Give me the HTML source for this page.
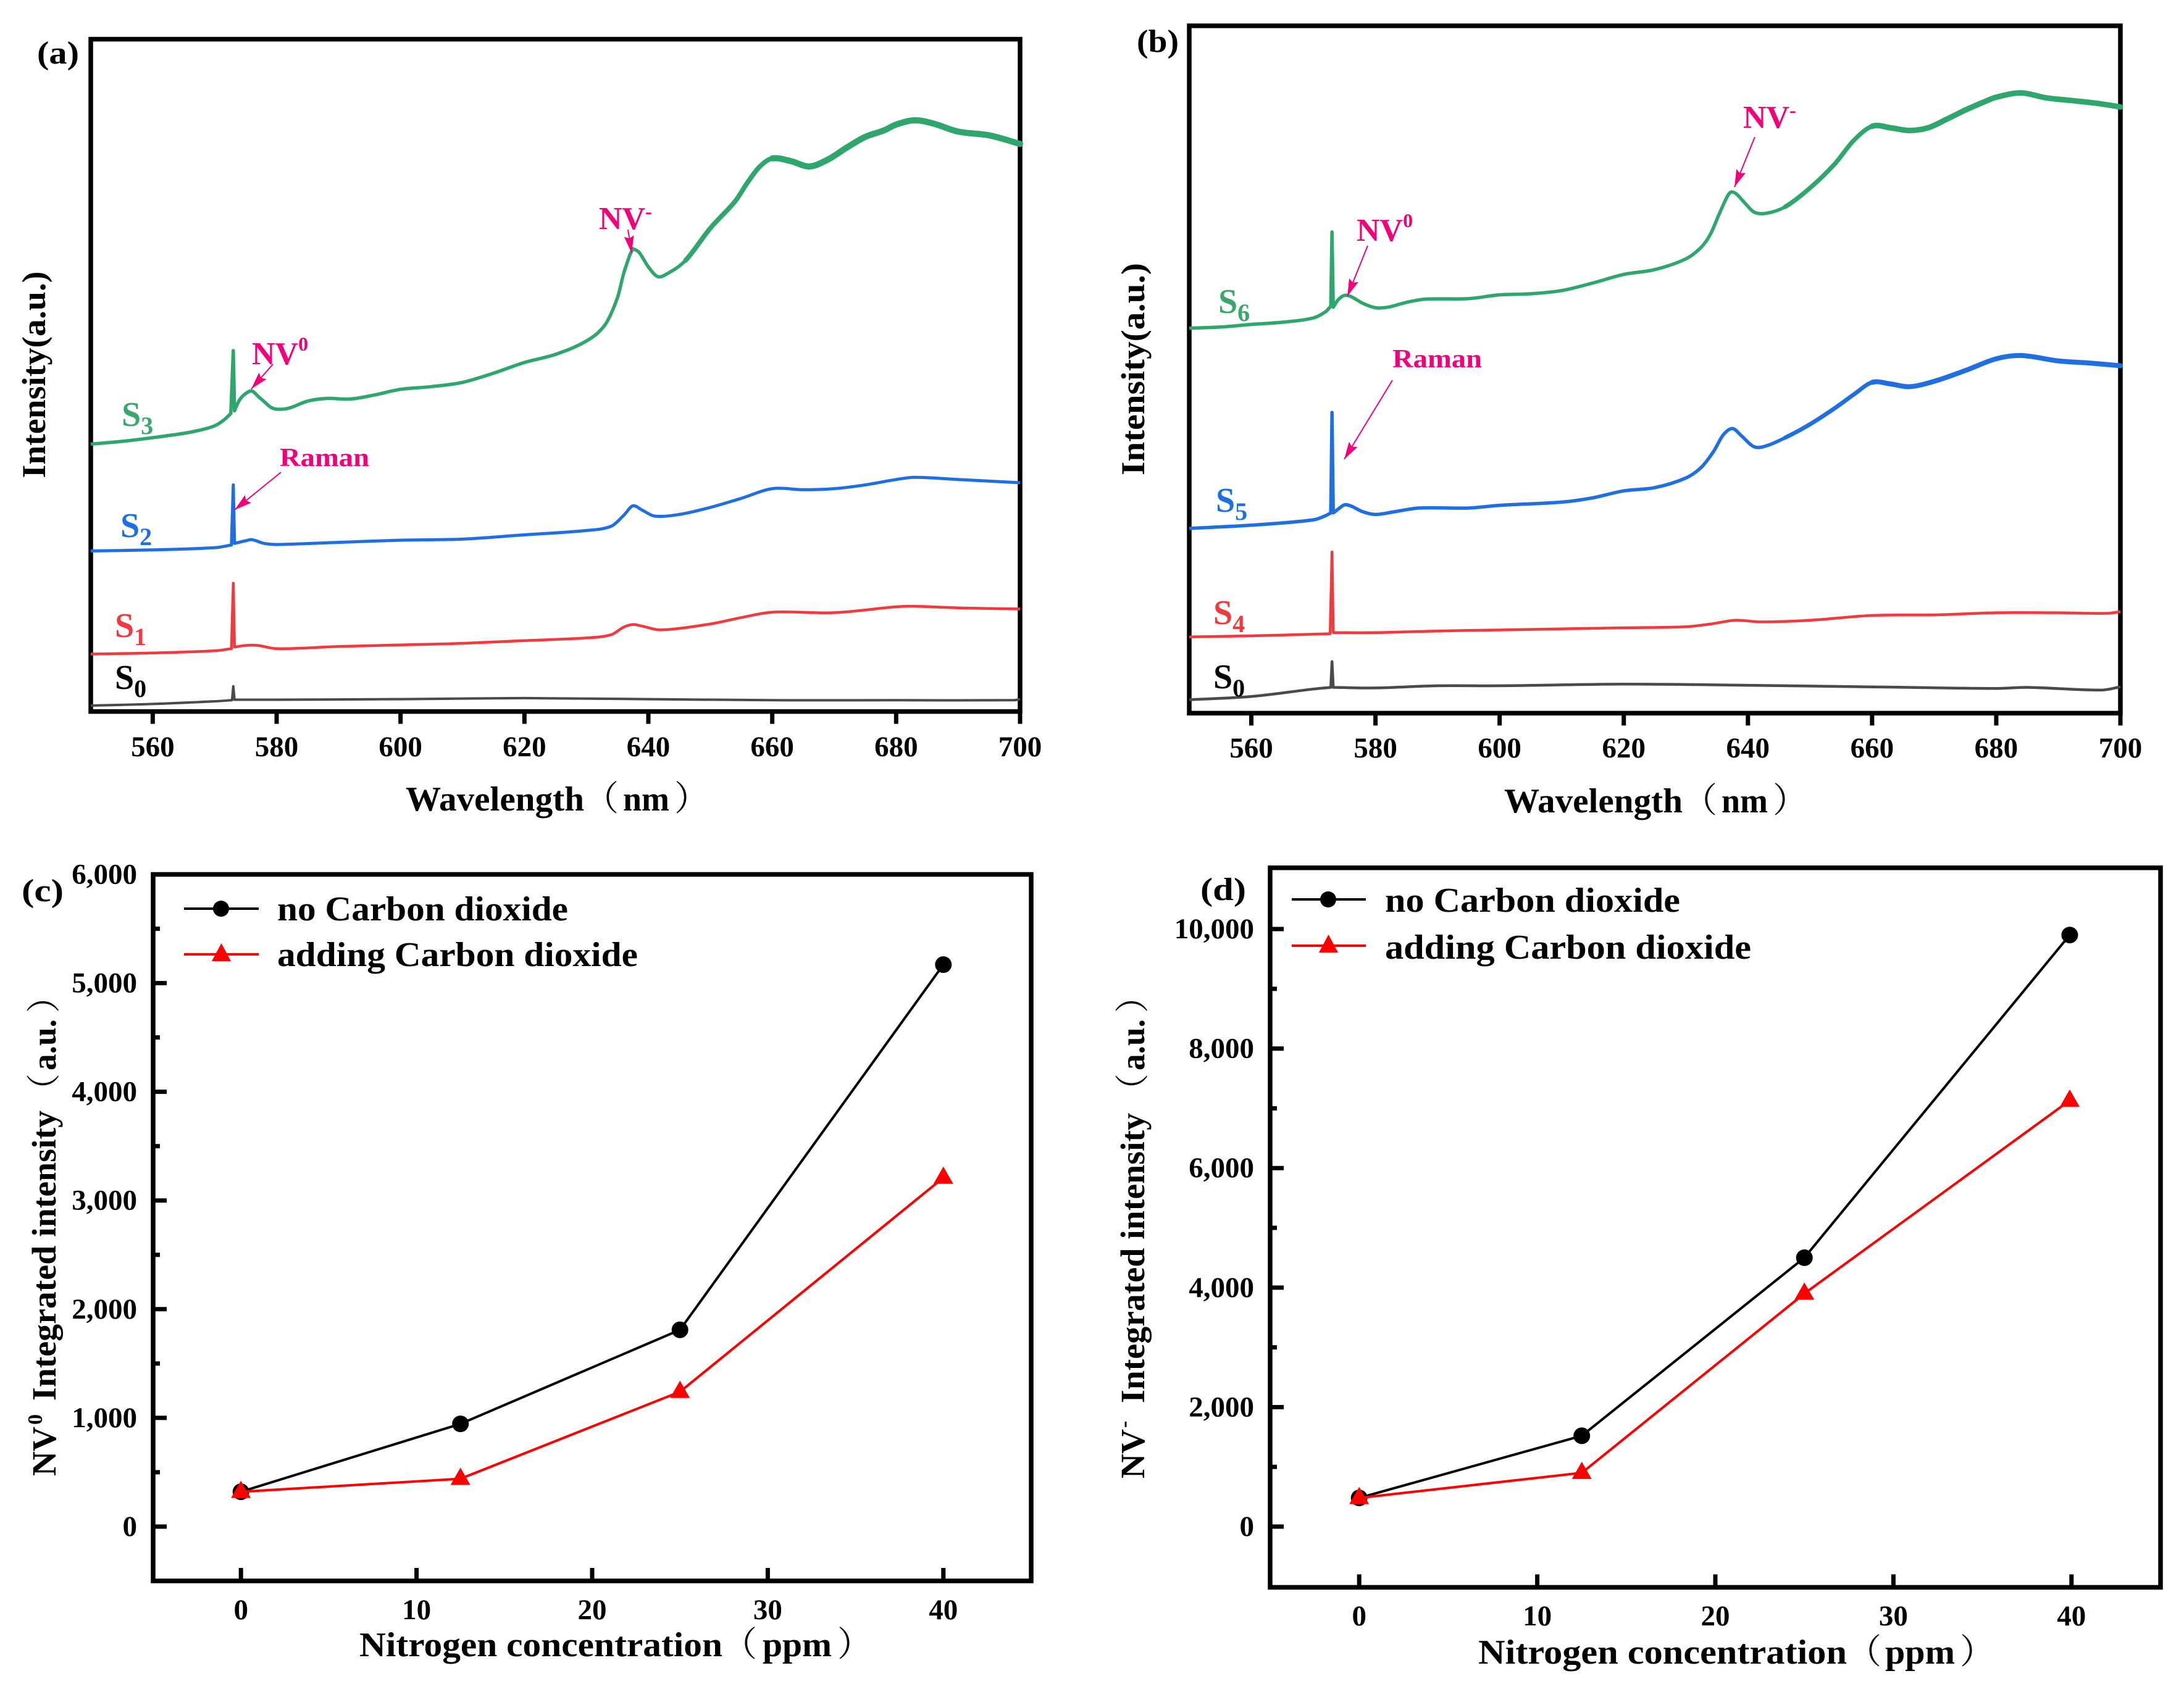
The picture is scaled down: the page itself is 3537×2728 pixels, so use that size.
<!DOCTYPE html>
<html lang="en">
<head>
<meta charset="utf-8">
<title>NV centre spectra and integrated intensity</title>
<style>
html,body{margin:0;padding:0;background:#fff;}
svg{display:block;}
text{font-family:"Liberation Serif","Noto Serif CJK SC",serif;font-weight:bold;fill:#000;}
.pink{fill:#f2007c;}
.par{font-weight:normal;}
</style>
</head>
<body>
<svg id="fig" xmlns="http://www.w3.org/2000/svg" width="3537" height="2728" viewBox="0 0 3537 2728">
<defs>
<marker id="ah" markerUnits="userSpaceOnUse" markerWidth="30" markerHeight="20" refX="28" refY="10" orient="auto">
<path d="M0 2 L28 10 L0 18 L4 10 Z" fill="#f2007c"/>
</marker>
</defs>
<rect width="3537" height="2728" fill="#fff"/>
<g id="plots"></g>

<!-- Panel a labels -->
<text x="60" y="103" font-size="52" textLength="68" lengthAdjust="spacingAndGlyphs">(a)</text>
<text transform="translate(73,607) rotate(-90)" text-anchor="middle" font-size="54" textLength="335" lengthAdjust="spacingAndGlyphs">Intensity(a.u.)</text>
<text y="1313" font-size="56"><tspan x="657" textLength="289" lengthAdjust="spacingAndGlyphs">Wavelength</tspan><tspan class="par" x="946">（</tspan><tspan x="1009" textLength="75" lengthAdjust="spacingAndGlyphs">nm</tspan><tspan class="par" x="1092">）</tspan></text>
<text x="197" y="690" font-size="56" style="fill:#3aa76d">S<tspan font-size="40" dy="13">3</tspan></text>
<text x="195" y="870" font-size="56" style="fill:#1f6fe0">S<tspan font-size="40" dy="13">2</tspan></text>
<text x="186" y="1032" font-size="56" style="fill:#ef3b3f">S<tspan font-size="40" dy="13">1</tspan></text>
<text x="186" y="1116" font-size="56">S<tspan font-size="40" dy="13">0</tspan></text>
<text class="pink" x="408" y="590" font-size="52">NV<tspan font-size="32" dy="-22">0</tspan></text>
<text class="pink" x="970" y="371" font-size="52">NV<tspan font-size="32" dy="-18">-</tspan></text>
<text class="pink" x="453" y="755" font-size="42" textLength="145" lengthAdjust="spacingAndGlyphs">Raman</text>
<line x1="442" y1="590" x2="407" y2="630" stroke="#f2007c" stroke-width="2" marker-end="url(#ah)"/>
<line x1="1017" y1="372" x2="1023" y2="410" stroke="#f2007c" stroke-width="2" marker-end="url(#ah)"/>
<line x1="455" y1="765" x2="380" y2="826" stroke="#f2007c" stroke-width="2" marker-end="url(#ah)"/>

<!-- Panel b labels -->
<text x="1841" y="84" font-size="52" textLength="68" lengthAdjust="spacingAndGlyphs">(b)</text>
<text transform="translate(1853,598) rotate(-90)" text-anchor="middle" font-size="54" textLength="344" lengthAdjust="spacingAndGlyphs">Intensity(a.u.)</text>
<text y="1316" font-size="56"><tspan x="2436" textLength="289" lengthAdjust="spacingAndGlyphs">Wavelength</tspan><tspan class="par" x="2725">（</tspan><tspan x="2788" textLength="75" lengthAdjust="spacingAndGlyphs">nm</tspan><tspan class="par" x="2871">）</tspan></text>
<text x="1973" y="507" font-size="56" style="fill:#3aa76d">S<tspan font-size="40" dy="13">6</tspan></text>
<text x="1969" y="829" font-size="56" style="fill:#1f6fe0">S<tspan font-size="40" dy="13">5</tspan></text>
<text x="1965" y="1011" font-size="56" style="fill:#ef3b3f">S<tspan font-size="40" dy="13">4</tspan></text>
<text x="1965" y="1115" font-size="56">S<tspan font-size="40" dy="13">0</tspan></text>
<text class="pink" x="2197" y="390" font-size="52">NV<tspan font-size="32" dy="-22">0</tspan></text>
<text class="pink" x="2823" y="207" font-size="52">NV<tspan font-size="32" dy="-18">-</tspan></text>
<text class="pink" x="2255" y="595" font-size="42" textLength="145" lengthAdjust="spacingAndGlyphs">Raman</text>
<line x1="2215" y1="398" x2="2182" y2="480" stroke="#f2007c" stroke-width="2" marker-end="url(#ah)"/>
<line x1="2842" y1="222" x2="2809" y2="303" stroke="#f2007c" stroke-width="2" marker-end="url(#ah)"/>
<line x1="2255" y1="616" x2="2177" y2="744" stroke="#f2007c" stroke-width="2" marker-end="url(#ah)"/>

<!-- Panel c labels -->
<text x="35" y="1460" font-size="52" textLength="68" lengthAdjust="spacingAndGlyphs">(c)</text>
<text transform="translate(90,0) rotate(-90)" y="0" font-size="55"><tspan x="-2391" textLength="80" lengthAdjust="spacingAndGlyphs">NV</tspan><tspan x="-2308" font-size="34" dy="-22">0</tspan><tspan x="-2269" dy="22" textLength="470" lengthAdjust="spacingAndGlyphs">Integrated intensity</tspan><tspan class="par" x="-1794">（</tspan><tspan x="-1734" textLength="83" lengthAdjust="spacingAndGlyphs">a.u.</tspan><tspan class="par" x="-1641">）</tspan></text>
<text y="2683" font-size="56"><tspan x="582" textLength="588" lengthAdjust="spacingAndGlyphs">Nitrogen concentration</tspan><tspan class="par" x="1170">（</tspan><tspan x="1235" textLength="112" lengthAdjust="spacingAndGlyphs">ppm</tspan><tspan class="par" x="1356">）</tspan></text>
<line x1="298" y1="1472" x2="419" y2="1472" stroke="#000" stroke-width="4"/>
<circle cx="358" cy="1472" r="13" fill="#000"/>
<text x="449" y="1491" font-size="56" textLength="471" lengthAdjust="spacingAndGlyphs">no Carbon dioxide</text>
<line x1="298" y1="1546" x2="419" y2="1546" stroke="#f00" stroke-width="4"/>
<path d="M358.5 1528 L374 1557 L343 1557 Z" fill="#f00"/>
<text x="449" y="1565" font-size="56" textLength="584" lengthAdjust="spacingAndGlyphs">adding Carbon dioxide</text>

<!-- Panel d labels -->
<text x="1944" y="1458" font-size="52" textLength="74" lengthAdjust="spacingAndGlyphs">(d)</text>
<text transform="translate(1853,0) rotate(-90)" y="0" font-size="55"><tspan x="-2395" textLength="80" lengthAdjust="spacingAndGlyphs">NV</tspan><tspan x="-2313" font-size="34" dy="-22">-</tspan><tspan x="-2273" dy="22" textLength="470" lengthAdjust="spacingAndGlyphs">Integrated intensity</tspan><tspan class="par" x="-1794">（</tspan><tspan x="-1734" textLength="83" lengthAdjust="spacingAndGlyphs">a.u.</tspan><tspan class="par" x="-1641">）</tspan></text>
<text y="2695" font-size="56"><tspan x="2394" textLength="597" lengthAdjust="spacingAndGlyphs">Nitrogen concentration</tspan><tspan class="par" x="2991">（</tspan><tspan x="3053" textLength="113" lengthAdjust="spacingAndGlyphs">ppm</tspan><tspan class="par" x="3174">）</tspan></text>
<line x1="2092" y1="1457" x2="2212" y2="1457" stroke="#000" stroke-width="4"/>
<circle cx="2151" cy="1457" r="13" fill="#000"/>
<text x="2243" y="1477" font-size="56" textLength="478" lengthAdjust="spacingAndGlyphs">no Carbon dioxide</text>
<line x1="2092" y1="1532" x2="2212" y2="1532" stroke="#f00" stroke-width="4"/>
<path d="M2151.5 1514 L2167 1543 L2136 1543 Z" fill="#f00"/>
<text x="2243" y="1553" font-size="56" textLength="593" lengthAdjust="spacingAndGlyphs">adding Carbon dioxide</text>
</svg>

<script>
// Panel (a) spectra: wavelength (nm) and intensity (a.u.)
var wlS3 = [550,555,560,565,568,570,571.5,572.6,573,573.2,574,575,576,577,578,579,580,582,585,588,592,596,600,605,610,615,620,625,630,633,635,636,637,637.5,638.5,640,641.5,643,646,650,654,656,658,660,663,666,669,672,675,678,680,683,686,690,695,700];
var valS3 = [498,503,510,518,525,532,543,555,672,560,580,592,597,587,577,567,563,565,578,583,582,590,600,605,613,630,650,665,690,720,770,815,850,862,855,828,810,815,840,900,950,985,1015,1030,1025,1015,1028,1050,1070,1082,1093,1101,1095,1080,1073,1057];
var wlS2 = [550,560,570,572.7,573,573.2,575,576,578,580,590,600,610,620,630,634,636,637.5,639,641,645,650,655,660,665,670,675,680,683,690,700];
var valS2 = [299,301,305,310,422,313,318,320,313,311,315,319,321,329,337,345,365,383,375,364,367,380,397,415,413,415,422,432,436,432,426];
var wlS1 = [550,560,570,572.7,573,573.2,575,577,580,590,600,610,620,630,634,636,637.5,639,642,650,655,660,670,680,683,690,700];
var valS1 = [107,109,113,117,239,120,123,123,117,121,124,127,132,137,143,157,162,159,152,163,175,185,184,195,196,193,191];
var wlS0a = [550,560,570,572.8,573,573.2,580,600,620,640,660,680,699,700];
var valS0a = [11,14,19,21,47,22,22,23,25,23,21,21,21,23];

// Panel (b) spectra
var wlS6 = [550,555,560,565,570,572,572.8,573,573.2,574,575,576,578,580,582,585,588,595,600,605,610,615,620,625,630,632.5,634,635.5,637,638,639.5,641,643,646,650,654,657,660,663,666,669,672,675,678,680,684,688,692,696,700];
var valS6 = [717,719,724,728,736,748,758,896,756,770,778,776,763,755,756,765,771,772,779,781,787,801,817,826,846,868,893,933,968,968,950,933,931,943,978,1023,1066,1093,1090,1085,1090,1106,1123,1138,1147,1155,1146,1141,1136,1129];
var wlS5 = [550,560,570,572,572.8,573,573.2,574,575,576,578,580,583,587,595,600,610,615,620,625,630,632.5,634.5,636,637.5,639,641,643,646,650,654,657,660,663,666,670,675,680,684,690,695,700];
var valS5 = [344,350,360,368,373,560,373,380,388,386,375,370,375,382,382,387,393,401,414,420,438,458,488,518,530,516,496,498,513,538,568,593,616,613,608,618,638,660,666,656,652,647];
var wlS4 = [550,560,570,572.7,573,573.2,580,590,600,610,620,630,634,638,642,650,660,670,680,690,698,700];
var valS4 = [142,144,147,148,300,150,150,153,155,157,159,161,166,173,170,173,182,183,187,187,186,189];
var wlS0b = [550,560,570,572.8,573,573.2,580,590,600,620,640,660,680,685,697,700];
var valS0b = [25,31,45,48,96,48,47,51,51,54,52,49,46,48,43,49];

// Wavelength axis ticks (shared by a and b)
var wlTicks = [560,580,600,620,640,660,680,700];

// Panel (c) integrated intensity
var concC = [0,12.5,25,40];
var noCo2C = [320,945,1810,5170];
var co2C = [320,440,1240,3210];
var yTicksC = [0,1000,2000,3000,4000,5000,6000];
var yTickLabelsC = ["0","1,000","2,000","3,000","4,000","5,000","6,000"];
var yMinorC = [500,1500,2500,3500,4500,5500];

// Panel (d) integrated intensity
var concD = [0,12.5,25,39.9];
var noCo2D = [480,1520,4500,9900];
var co2D = [480,900,3900,7130];
var yTicksD = [0,2000,4000,6000,8000,10000];
var yTickLabelsD = ["0","2,000","4,000","6,000","8,000","10,000"];
var yMinorD = [1000,3000,5000,7000,9000];

// Concentration axis ticks (shared by c and d)
var concTicks = [0,10,20,30,40];

var NS = 'http://www.w3.org/2000/svg';
var plots = document.getElementById('plots');

function make(tag, name, attrs) {
  var el = document.createElementNS(NS, tag);
  
  
  for (var k in attrs) { el.setAttribute(k, attrs[k]); }
  plots.appendChild(el);
  return el;
}
function scale(d0, d1, r0, r1) {
  return function (v) { return r0 + (v - d0) * (r1 - r0) / (d1 - d0); };
}
function tickText(name, x, y, str, anchor) {
  var t = make('text', name, { x: x, y: y, 'font-size': 47, 'text-anchor': anchor });
  t.textContent = str;
}
function frame(name, b) {
  make('rect', name, { x: b.l, y: b.t, width: b.r - b.l, height: b.b - b.t, fill: 'none', stroke: '#000', 'stroke-width': 7.5 });
}
function linePath(xs, ys, X, Y) {
  var d = '';
  for (var i = 0; i < xs.length; i++) {
    d += (d ? 'L' : 'M') + X(xs[i]).toFixed(1) + ' ' + Y(ys[i]).toFixed(1);
  }
  return d;
}
// Smooth curve through the data; very short segments (the Raman spike) stay straight.
// Tangents come from the full series, so a partial overlay follows the base curve exactly.
function smoothPath(xs, ys, X, Y, from) {
  var px = xs.map(X), py = ys.map(Y), i;
  var SHORT = 7;
  function slope(i) {
    var hasL = i > 0 && px[i] - px[i - 1] > SHORT;
    var hasR = i < px.length - 1 && px[i + 1] - px[i] > SHORT;
    if (hasL && hasR) { return (py[i + 1] - py[i - 1]) / (px[i + 1] - px[i - 1]); }
    if (hasL) { return (py[i] - py[i - 1]) / (px[i] - px[i - 1]); }
    if (hasR) { return (py[i + 1] - py[i]) / (px[i + 1] - px[i]); }
    return 0;
  }
  var d = '';
  for (i = 0; i < px.length - 1; i++) {
    if (xs[i] < from) { continue; }
    if (!d) { d = 'M' + px[i].toFixed(1) + ' ' + py[i].toFixed(1); }
    var dx = px[i + 1] - px[i];
    if (dx <= SHORT) {
      d += 'L' + px[i + 1].toFixed(1) + ' ' + py[i + 1].toFixed(1);
    } else {
      d += 'C' + (px[i] + dx / 3).toFixed(1) + ' ' + (py[i] + slope(i) * dx / 3).toFixed(1) + ' ' +
        (px[i + 1] - dx / 3).toFixed(1) + ' ' + (py[i + 1] - slope(i + 1) * dx / 3).toFixed(1) + ' ' +
        px[i + 1].toFixed(1) + ' ' + py[i + 1].toFixed(1);
    }
  }
  return d;
}
// The signal gets noisier toward long wavelengths: overlays thicken the trace in steps.
function spectrum(name, xs, ys, X, Y, color, w, noisyFrom, noisyW) {
  make('path', name, { d: smoothPath(xs, ys, X, Y, -Infinity), fill: 'none', stroke: color, 'stroke-width': w, 'stroke-linejoin': 'round' });
  if (noisyFrom) {
    make('path', name + '-noisy', { d: smoothPath(xs, ys, X, Y, noisyFrom), fill: 'none', stroke: color, 'stroke-width': (w + noisyW) / 2, 'stroke-linejoin': 'round', 'stroke-linecap': 'round' });
    make('path', name + '-noisier', { d: smoothPath(xs, ys, X, Y, noisyFrom + 15), fill: 'none', stroke: color, 'stroke-width': noisyW, 'stroke-linejoin': 'round', 'stroke-linecap': 'round' });
  }
}
function spectraPanel(id, b, yMax, base) {
  var X = scale(550, 700, b.l, b.r);
  var Y = scale(0, yMax, b.b, b.t);
  wlTicks.forEach(function (t) {
    make('line', 'panel-' + id + '-x-tick-' + t, { x1: X(t), x2: X(t), y1: b.b, y2: b.b + 20, stroke: '#000', 'stroke-width': 7 });
    tickText('panel-' + id + '-x-tick-label-' + t, X(t), base, String(t), 'middle');
  });
  frame('panel-' + id + '-frame', b);
  return { X: X, Y: Y };
}
function linePanel(id, b, yMin, yMax, conc, s1, s2, yTicks, yLabels, yMinor, labelRight, base) {
  var X = scale(-5, 45, b.l, b.r);
  var Y = scale(yMin, yMax, b.b, b.t);
  concTicks.forEach(function (t) {
    make('line', 'panel-' + id + '-x-tick-' + t, { x1: X(t), x2: X(t), y1: b.b, y2: b.b - 21, stroke: '#000', 'stroke-width': 7 });
    tickText('panel-' + id + '-x-tick-label-' + t, X(t), base, String(t), 'middle');
  });
  yTicks.forEach(function (t, i) {
    make('line', 'panel-' + id + '-y-tick-' + t, { x1: b.l, x2: b.l + 22, y1: Y(t), y2: Y(t), stroke: '#000', 'stroke-width': 7 });
    tickText('panel-' + id + '-y-tick-label-' + t, labelRight, Y(t) + 15, yLabels[i], 'end');
  });
  yMinor.forEach(function (t) {
    make('line', 'panel-' + id + '-y-minor-tick-' + t, { x1: b.l, x2: b.l + 11, y1: Y(t), y2: Y(t), stroke: '#000', 'stroke-width': 7 });
  });
  frame('panel-' + id + '-frame', b);
  make('path', 'panel-' + id + '-line-no-co2', { d: linePath(conc, s1, X, Y), fill: 'none', stroke: '#000', 'stroke-width': 4 });
  s1.forEach(function (v, i) {
    make('circle', 'panel-' + id + '-point-no-co2-' + i, { cx: X(conc[i]), cy: Y(v), r: 13.5, fill: '#000' });
  });
  make('path', 'panel-' + id + '-line-co2', { d: linePath(conc, s2, X, Y), fill: 'none', stroke: '#f00', 'stroke-width': 4 });
  s2.forEach(function (v, i) {
    var px = X(conc[i]), py = Y(v);
    make('path', 'panel-' + id + '-point-co2-' + i, { d: 'M' + px + ' ' + (py - 18) + 'L' + (px + 16) + ' ' + (py + 10) + 'L' + (px - 16) + ' ' + (py + 10) + 'Z', fill: '#f00' });
  });
}

var GREEN = '#2fa66c', BLUE = '#1f6fe0', RED = '#ef3b3f', GRAY = '#4a4a4a';

var pa = spectraPanel('a', { l: 147, r: 1652, t: 63.5, b: 1152.6 }, 1252, 1225);
spectrum('series-s0-a', wlS0a, valS0a, pa.X, pa.Y, GRAY, 4);
spectrum('series-s1', wlS1, valS1, pa.X, pa.Y, RED, 4.5);
spectrum('series-s2', wlS2, valS2, pa.X, pa.Y, BLUE, 5);
spectrum('series-s3', wlS3, valS3, pa.X, pa.Y, GREEN, 5.5, 645, 10);

var pb = spectraPanel('b', { l: 1926, r: 3434, t: 41.8, b: 1155.3 }, 1280, 1227);
spectrum('series-s0-b', wlS0b, valS0b, pb.X, pb.Y, GRAY, 4.5);
spectrum('series-s4', wlS4, valS4, pb.X, pb.Y, RED, 4.5);
spectrum('series-s5', wlS5, valS5, pb.X, pb.Y, BLUE, 5.5, 645, 8);
spectrum('series-s6', wlS6, valS6, pb.X, pb.Y, GREEN, 5.5, 645, 9);

linePanel('c', { l: 248, r: 1670, t: 1416.5, b: 2561 }, -500, 6000, concC, noCo2C, co2C, yTicksC, yTickLabelsC, yMinorC, 222, 2623);
linePanel('d', { l: 2057, r: 3499, t: 1405.8, b: 2571.4 }, -1016, 11025, concD, noCo2D, co2D, yTicksD, yTickLabelsD, yMinorD, 2031, 2633);
</script>
</body>
</html>
